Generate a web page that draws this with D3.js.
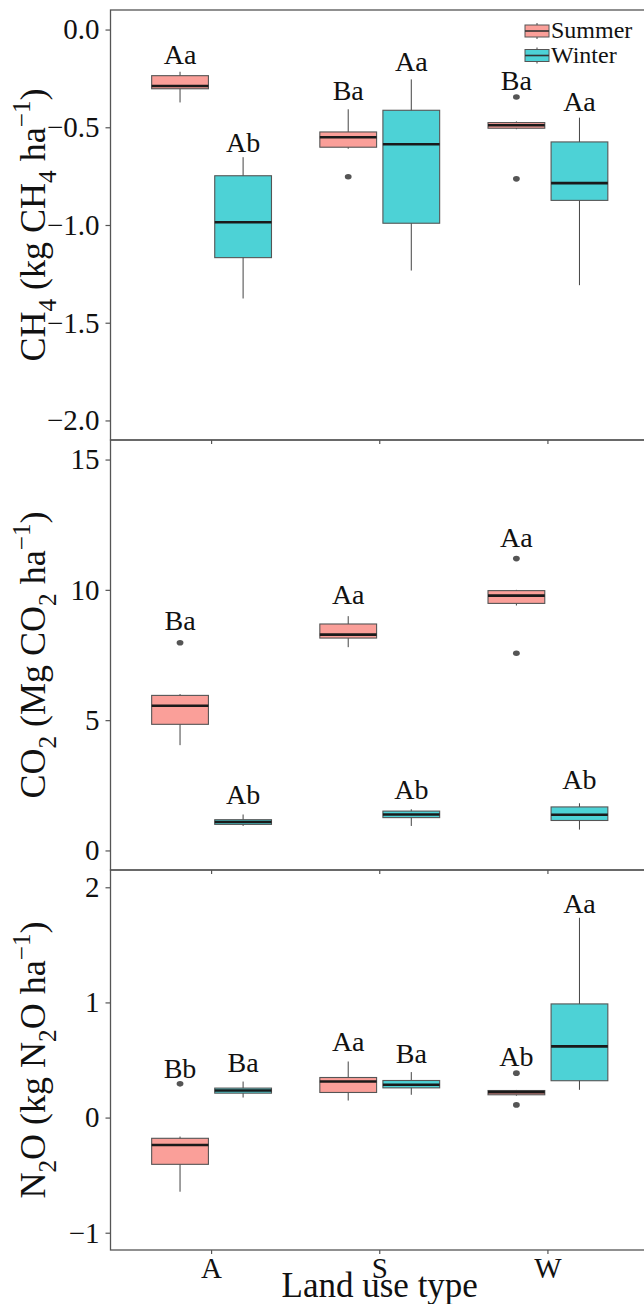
<!DOCTYPE html>
<html>
<head>
<meta charset="utf-8">
<script src="https://cdn.jsdelivr.net/npm/d3@7.9.0/dist/d3.min.js"></script>
<style>
  body { margin: 0; background: #fff; }
  svg, svg text { font-family: "Liberation Serif", "DejaVu Serif", serif; }
</style>
</head>
<body>
<svg id="chart" width="644" height="1304"></svg>
<script>
const landUse = ['A', 'S', 'W'];
const seasons = ['Summer', 'Winter'];

// box stats per land use: [lower whisker, Q1, median, Q3, upper whisker]
const ch4Summer = [[-0.373, -0.303, -0.289, -0.236, -0.216], [-0.61, -0.602, -0.551, -0.524, -0.408], [-0.51, -0.505, -0.49, -0.476, -0.47]];
const ch4Winter = [[-1.376, -1.167, -0.986, -0.748, -0.653], [-1.233, -0.991, -0.587, -0.413, -0.255], [-1.308, -0.874, -0.786, -0.575, -0.451]];
const ch4SummerOut = [[], [-0.753], [-0.345, -0.764]];
const ch4WinterOut = [[], [], []];
const ch4Letters = [['Aa', 'Ab'], ['Ba', 'Aa'], ['Ba', 'Aa']];
const ch4LetterY = [[-0.178, -0.625], [-0.361, -0.212], [-0.309, -0.415]];

const co2Summer = [[4.04, 4.84, 5.55, 5.95, 6.0], [7.8, 8.15, 8.28, 8.69, 8.99], [9.4, 9.48, 9.78, 9.97, 10.0]];
const co2Winter = [[0.94, 1.0, 1.09, 1.18, 1.38], [0.94, 1.26, 1.38, 1.51, 1.58], [0.8, 1.15, 1.37, 1.67, 1.81]];
const co2SummerOut = [[7.97], [], [11.2, 7.57]];
const co2WinterOut = [[], [], []];
const co2Letters = [['Ba', 'Ab'], ['Aa', 'Ab'], ['Aa', 'Ab']];
const co2LetterY = [[8.46, 1.79], [9.45, 1.96], [11.63, 2.34]];

const n2oSummer = [[-0.644, -0.406, -0.238, -0.18, -0.165], [0.148, 0.218, 0.313, 0.348, 0.487], [0.19, 0.198, 0.221, 0.235, 0.24]];
const n2oWinter = [[0.174, 0.212, 0.235, 0.256, 0.313], [0.198, 0.258, 0.285, 0.322, 0.395], [0.241, 0.32, 0.618, 0.987, 1.735]];
const n2oSummerOut = [[0.293], [], [0.386, 0.11]];
const n2oWinterOut = [[], [], []];
const n2oLetters = [['Bb', 'Ba'], ['Aa', 'Ba'], ['Ab', 'Aa']];
const n2oLetterY = [[0.343, 0.40], [0.574, 0.473], [0.444, 1.779]];

const ch4Ticks = [0, -0.5, -1, -1.5, -2];
const co2Ticks = [0, 5, 10, 15];
const n2oTicks = [-1, 0, 1, 2];

const colors = { Summer: '#fa9f99', Winter: '#4dd2d6' };
const serif = '"Liberation Serif", "DejaVu Serif", serif';

const panels = [
  { top: 10, bottom: 440, domain: [-2.1, 0.1], ticks: ch4Ticks, fmt: d3.format('.1f'),
    stats: [ch4Summer, ch4Winter], outs: [ch4SummerOut, ch4WinterOut], letters: ch4Letters, letterY: ch4LetterY,
    title: [['CH', 0], ['4', 1], [' (kg CH', 0], ['4', 1], [' ha', 0], ['\u22121', -1], [')', 0]] },
  { top: 440, bottom: 870, domain: [-0.75, 15.75], ticks: co2Ticks, fmt: d3.format('d'),
    stats: [co2Summer, co2Winter], outs: [co2SummerOut, co2WinterOut], letters: co2Letters, letterY: co2LetterY,
    title: [['CO', 0], ['2', 1], [' (Mg CO', 0], ['2', 1], [' ha', 0], ['\u22121', -1], [')', 0]] },
  { top: 870, bottom: 1250, domain: [-1.15, 2.15], ticks: n2oTicks, fmt: d3.format('d'),
    stats: [n2oSummer, n2oWinter], outs: [n2oSummerOut, n2oWinterOut], letters: n2oLetters, letterY: n2oLetterY,
    title: [['N', 0], ['2', 1], ['O (kg N', 0], ['2', 1], ['O ha', 0], ['\u22121', -1], [')', 0]] }
];

const left = 110.5, right = 649;
const svg = d3.select('#chart');

let x = d3.scaleBand()
  .domain(landUse)
  .range([left, right])
  .paddingInner(0.25)
  .paddingOuter(0.226);

let xs = d3.scaleBand()
  .domain(seasons)
  .range([0, x.bandwidth()])
  .paddingInner(0.1)
  .paddingOuter(0.05);

const titleSize = 36;

panels.forEach((p, pi) => {
  let y = d3.scaleLinear().domain(p.domain).range([p.bottom, p.top]);
  let g = svg.append('g');

  // y axis
  let yAxis = g.append('g')
    .attr('transform', `translate(${left},0)`)
    .call(d3.axisLeft(y).tickValues(p.ticks).tickFormat(p.fmt).tickSize(5).tickPadding(6));
  yAxis.attr('font-family', serif);
  yAxis.select('.domain').remove();
  yAxis.selectAll('line').attr('stroke', '#555').attr('stroke-width', 1.2);
  yAxis.selectAll('text').attr('font-size', 29).attr('fill', '#111').attr('font-family', serif);

  // x axis ticks at panel bottom
  let xAxis = g.append('g')
    .attr('transform', `translate(0,${p.bottom})`)
    .call(d3.axisBottom(x).tickSize(4).tickPadding(3));
  xAxis.attr('font-family', serif);
  xAxis.select('.domain').remove();
  xAxis.selectAll('line').attr('stroke', '#555').attr('stroke-width', 1.2);
  if (pi < panels.length - 1) {
    xAxis.selectAll('text').remove();
  } else {
    xAxis.selectAll('text').attr('font-size', 29).attr('fill', '#111').attr('font-family', serif);
  }

  // panel border
  g.append('rect')
    .attr('x', left).attr('y', p.top)
    .attr('width', right - left).attr('height', p.bottom - p.top)
    .attr('fill', 'none').attr('stroke', '#555').attr('stroke-width', 1.3);

  // boxes
  seasons.forEach((s, si) => {
    landUse.forEach((lu, li) => {
      let st = p.stats[si][li];
      let x0 = x(lu) + xs(s);
      let w = xs.bandwidth();
      let cx = x0 + w / 2;
      g.append('line')
        .attr('x1', cx).attr('x2', cx)
        .attr('y1', y(st[0])).attr('y2', y(st[4]))
        .attr('stroke', '#444').attr('stroke-width', 1);
      g.append('rect')
        .attr('x', x0).attr('width', w)
        .attr('y', y(st[3])).attr('height', Math.max(y(st[1]) - y(st[3]), 1))
        .attr('fill', colors[s]).attr('stroke', '#555').attr('stroke-width', 1.1);
      g.append('line')
        .attr('x1', x0).attr('x2', x0 + w)
        .attr('y1', y(st[2])).attr('y2', y(st[2]))
        .attr('stroke', '#1a1a1a').attr('stroke-width', 2.6);
      p.outs[si][li].forEach((v) => {
        g.append('ellipse')
          .attr('cx', cx).attr('cy', y(v))
          .attr('rx', 3.4).attr('ry', 2.8)
          .attr('fill', '#555');
      });
      g.append('text')
        .attr('x', cx).attr('y', y(p.letterY[li][si]))
        .attr('text-anchor', 'middle')
        .attr('font-family', serif)
        .attr('font-size', 28).attr('fill', '#111')
        .text(p.letters[li][si]);
    });
  });

  // y title with sub/superscripts
  let cy = (p.top + p.bottom) / 2;
  let t = g.append('text')
    .attr('transform', `translate(45,${cy}) rotate(-90)`)
    .attr('text-anchor', 'middle')
    .attr('font-family', serif)
    .attr('font-size', titleSize).attr('fill', '#111');
  let shift = 0;
  p.title.forEach(([str, kind]) => {
    let target = kind === 1 ? 0.3 * titleSize : kind === -1 ? -0.42 * titleSize : 0;
    t.append('tspan')
      .attr('dy', target - shift)
      .attr('font-size', kind === 0 ? titleSize : titleSize * 0.7)
      .text(str);
    shift = target;
  });
});

// x title
svg.append('text')
  .attr('x', x('S') + x.bandwidth() / 2).attr('y', 1297)
  .attr('text-anchor', 'middle')
  .attr('font-family', serif)
  .attr('font-size', 35).attr('fill', '#111')
  .text('Land use type');

// legend
let legend = svg.append('g');
seasons.forEach((s, i) => {
  let ky = 25 + i * 24.5;
  legend.append('line')
    .attr('x1', 537).attr('x2', 537).attr('y1', ky - 2).attr('y2', ky + 14)
    .attr('stroke', '#444').attr('stroke-width', 1);
  legend.append('rect')
    .attr('x', 525).attr('y', ky).attr('width', 24).attr('height', 12)
    .attr('fill', colors[s]).attr('stroke', '#555').attr('stroke-width', 1);
  legend.append('line')
    .attr('x1', 525).attr('x2', 549).attr('y1', ky + 6).attr('y2', ky + 6)
    .attr('stroke', '#333').attr('stroke-width', 1.6);
  legend.append('text')
    .attr('x', 551).attr('y', ky + 13)
    .attr('font-family', serif)
    .attr('font-size', 24).attr('fill', '#111')
    .text(s);
});
</script>
</body>
</html>
